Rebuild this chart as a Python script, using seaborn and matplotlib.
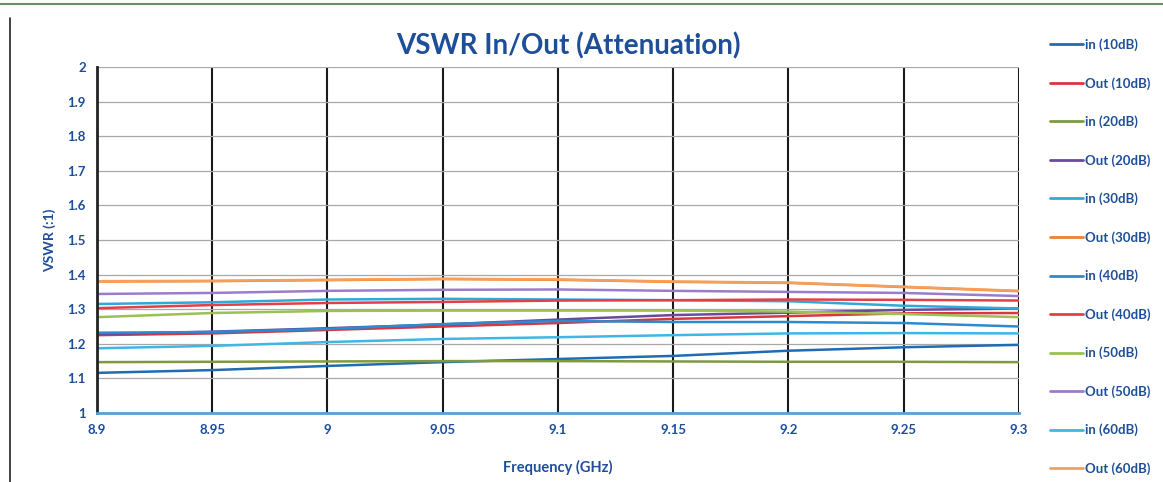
import matplotlib
matplotlib.use("Agg")
import matplotlib.pyplot as plt
import seaborn as sns
import pandas as pd
from matplotlib.lines import Line2D

# ---- data ----
freq = [8.9, 8.95, 9.0, 9.05, 9.1, 9.15, 9.2, 9.25, 9.3]
in_10 = [1.116, 1.124, 1.136, 1.147, 1.156, 1.165, 1.180, 1.190, 1.197]
out_10 = [1.225, 1.230, 1.240, 1.250, 1.260, 1.272, 1.280, 1.288, 1.289]
in_20 = [1.147, 1.148, 1.149, 1.150, 1.150, 1.149, 1.148, 1.148, 1.147]
out_20 = [1.228, 1.235, 1.245, 1.256, 1.270, 1.283, 1.290, 1.298, 1.302]
in_30 = [1.315, 1.320, 1.328, 1.330, 1.328, 1.326, 1.323, 1.310, 1.302]
out_30 = [1.380, 1.381, 1.384, 1.387, 1.385, 1.379, 1.376, 1.364, 1.352]
in_40 = [1.232, 1.234, 1.243, 1.257, 1.266, 1.263, 1.263, 1.260, 1.250]
out_40 = [1.303, 1.312, 1.318, 1.321, 1.325, 1.326, 1.328, 1.327, 1.325]
in_50 = [1.277, 1.289, 1.295, 1.296, 1.296, 1.296, 1.293, 1.286, 1.277]
out_50 = [1.344, 1.347, 1.353, 1.356, 1.357, 1.353, 1.350, 1.347, 1.338]
in_60 = [1.187, 1.194, 1.205, 1.214, 1.219, 1.225, 1.230, 1.231, 1.230]
out_60 = [1.381, 1.382, 1.385, 1.388, 1.386, 1.380, 1.377, 1.365, 1.353]

series_names = ["in (10dB)", "Out (10dB)", "in (20dB)", "Out (20dB)", "in (30dB)", "Out (30dB)",
                "in (40dB)", "Out (40dB)", "in (50dB)", "Out (50dB)", "in (60dB)", "Out (60dB)"]
series_values = [in_10, out_10, in_20, out_20, in_30, out_30,
                 in_40, out_40, in_50, out_50, in_60, out_60]
colors = ["#1f6bb5", "#d9363e", "#7f9a3e", "#6a4a9c", "#31a9d8", "#f07f2e",
          "#2c8ad0", "#e0404a", "#9bc053", "#9a7ccc", "#3fb6e6", "#f5a05a"]

x_ticks = [8.9, 8.95, 9.0, 9.05, 9.1, 9.15, 9.2, 9.25, 9.3]
x_tick_labels = ["8.9", "8.95", "9", "9.05", "9.1", "9.15", "9.2", "9.25", "9.3"]
y_ticks = [1.0, 1.1, 1.2, 1.3, 1.4, 1.5, 1.6, 1.7, 1.8, 1.9, 2.0]
y_tick_labels = ["1", "1.1", "1.2", "1.3", "1.4", "1.5", "1.6", "1.7", "1.8", "1.9", "2"]

rows = []
for name, vals in zip(series_names, series_values):
    for f, v in zip(freq, vals):
        rows.append({"Frequency (GHz)": f, "VSWR": v, "Series": name})
df = pd.DataFrame(rows)

sns.set_style("white")
plt.rcParams['font.family'] = ['Lato', 'DejaVu Sans']

W, H = 1163, 482
fig = plt.figure(figsize=(W / 100, H / 100), dpi=100)
ax = fig.add_axes([97 / W, 1 - 413 / H, (1019 - 97) / W, (413 - 67) / H])

txt_color = "#1f4e99"

sns.lineplot(data=df, x="Frequency (GHz)", y="VSWR", hue="Series",
             hue_order=series_names, palette=colors, linewidth=1.8,
             ax=ax, legend=False, estimator=None, sort=True)

ax.set_xlim(8.9, 9.3)
ax.set_ylim(1.0, 2.0)
ax.set_xticks(x_ticks)
ax.set_xticklabels(x_tick_labels, fontsize=9.5, color=txt_color, fontweight="bold")
ax.set_yticks(y_ticks)
ax.set_yticklabels(y_tick_labels, fontsize=9.5, color=txt_color, fontweight="bold")
ax.tick_params(axis="both", length=0, pad=8)

ax.yaxis.grid(True, color="#a8a8a8", linewidth=0.9)
ax.xaxis.grid(True, color="#1a1a1a", linewidth=1.5)
ax.set_axisbelow(True)

for s in ["top", "right"]:
    ax.spines[s].set_visible(False)
ax.spines["left"].set_color("#222222")
ax.spines["left"].set_linewidth(2.0)
ax.spines["bottom"].set_color("#5a9fd6")
ax.spines["bottom"].set_linewidth(2.0)

ax.set_xlabel("Frequency (GHz)", fontsize=10.5, color=txt_color, fontweight="bold", labelpad=17)
ax.set_ylabel("VSWR (:1)", fontsize=10, color=txt_color, fontweight="bold", labelpad=8)

fig.text(568 / W, 1 - 46 / H, "VSWR In/Out (Attenuation)", ha="center", va="center",
         fontsize=20, color=txt_color, fontweight="bold")

handles = [Line2D([0], [0], color=c, linewidth=2) for c in colors]
leg = fig.legend(handles, series_names, loc="upper left",
                 bbox_to_anchor=(1045 / W, 1 - 33 / H), frameon=False,
                 prop={"size": 9.5, "weight": "bold"},
                 handlelength=2.5, handletextpad=0.1, labelspacing=1.96,
                 borderaxespad=0)
for t in leg.get_texts():
    t.set_color(txt_color)

# outer frame lines of the scanned sheet
fig.add_artist(Line2D([10 / W, 10 / W], [0, 1 - 18 / H], color="#222222", linewidth=1.2,
                      transform=fig.transFigure))
fig.add_artist(Line2D([0, 1], [1 - 4 / H, 1 - 4 / H], color="#6f8f6a", linewidth=1.5,
                      transform=fig.transFigure))

fig.savefig("out.png", dpi=100)
